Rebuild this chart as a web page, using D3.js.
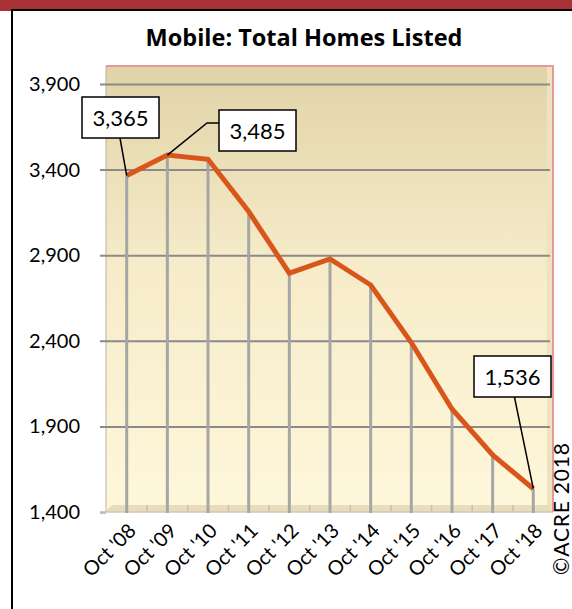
<!DOCTYPE html>
<html>
<head>
<meta charset="utf-8">
<script src="https://cdn.jsdelivr.net/npm/d3@7"></script>
<style>
  body { margin: 0; background: #fff; }
  svg { display: block; font-family: Lato, "Open Sans", sans-serif; }
</style>
</head>
<body>
<div id="viz"></div>
<script>
const categories = ["Oct '08", "Oct '09", "Oct '10", "Oct '11", "Oct '12", "Oct '13",
                    "Oct '14", "Oct '15", "Oct '16", "Oct '17", "Oct '18"];
const homesListed = [3365, 3485, 3460, 3155, 2795, 2878, 2726, 2390, 2002, 1733, 1536];
const yTicks = [1400, 1900, 2400, 2900, 3400, 3900];
const labelled = [0, 1, 10]; // points that get a callout box

const width = 572;
const height = 609;
const plot = { left: 106, right: 550, top: 66, bottom: 512 };
const lineColor = '#d9561b';

const svg = d3.select('#viz')
    .append('svg')
    .attr('width', width)
    .attr('height', height);

// frame: red band on top, black box border
svg.append('rect').attr('x', 0).attr('y', 0).attr('width', width).attr('height', 9).attr('fill', '#a93236');
svg.append('rect').attr('x', 0).attr('y', 0).attr('width', 11).attr('height', 11).attr('fill', '#a93236');
svg.append('rect')
    .attr('x', 12).attr('y', 10).attr('width', width).attr('height', height)
    .attr('fill', 'none').attr('stroke', '#000').attr('stroke-width', 2);

svg.append('text')
    .attr('x', 304).attr('y', 46)
    .attr('text-anchor', 'middle')
    .attr('font-family', '"Open Sans"')
    .attr('font-size', 23.5).attr('font-weight', 'bold')
    .text('Mobile: Total Homes Listed');

const defs = svg.append('defs');
const grad = defs.append('linearGradient').attr('id', 'wall').attr('x1', 0).attr('y1', 0).attr('x2', 0).attr('y2', 1);
grad.append('stop').attr('offset', '0%').attr('stop-color', '#e1d3a8');
grad.append('stop').attr('offset', '45%').attr('stop-color', '#f6ecc9');
grad.append('stop').attr('offset', '100%').attr('stop-color', '#fff7db');

const xScale = d3.scalePoint()
    .domain(categories)
    .range([126.7, 533.3]);

const yScale = d3.scaleLinear()
    .domain([1400, 3900])
    .range([plot.bottom, 84]);

// back wall + side + floor (the pseudo 3d look)
svg.append('rect')
    .attr('x', plot.left).attr('y', plot.top)
    .attr('width', plot.right - plot.left).attr('height', plot.bottom - plot.top)
    .attr('fill', 'url(#wall)');
svg.append('path')
    .attr('d', `M${plot.right - 3},${plot.top} L${plot.right + 3},${plot.top} L${plot.right + 3},${plot.bottom} L${plot.right - 3},${plot.bottom - 6}Z`)
    .attr('fill', '#efe3bf');
svg.append('path')
    .attr('d', `M${plot.left - 1},${plot.bottom} L${plot.left + 6},${plot.bottom - 7} L${plot.right - 3},${plot.bottom - 7} L${plot.right + 3},${plot.bottom} Z`)
    .attr('fill', '#e8dcbb');
svg.append('path')
    .attr('d', `M${plot.left},${plot.top} L${plot.right + 3},${plot.top} L${plot.right + 3},${plot.bottom}`)
    .attr('fill', 'none').attr('stroke', '#e49a9a').attr('stroke-width', 2);
svg.append('line')
    .attr('x1', plot.left).attr('x2', plot.left).attr('y1', plot.top).attr('y2', plot.bottom)
    .attr('stroke', '#b8b3a6').attr('stroke-width', 1);

// y axis with gridlines
const yAxis = d3.axisLeft(yScale)
    .tickValues(yTicks)
    .tickFormat(d3.format(','))
    .tickSize(-(plot.right - 100))
    .tickPadding(20);
const gy = svg.append('g')
    .attr('transform', 'translate(100,0)')
    .call(yAxis);
gy.select('.domain').remove();
gy.selectAll('.tick line').attr('stroke', '#8a8a8a').attr('stroke-width', 2);
gy.selectAll('.tick').filter(d => d === 1400).select('line').attr('x2', 6);
gy.selectAll('.tick text').attr('font-size', 20).attr('fill', '#000').attr('font-family', 'Lato');

// minor floor ticks between categories
const step = xScale.step();
svg.append('g').selectAll('line')
    .data(categories.slice(0, -1))
    .join('line')
    .attr('x1', d => xScale(d) + step / 2).attr('x2', d => xScale(d) + step / 2)
    .attr('y1', plot.bottom - 7).attr('y2', plot.bottom)
    .attr('stroke', '#c9c0a8').attr('stroke-width', 1.5);
svg.append('line')
    .attr('x1', 100).attr('x2', plot.right + 3).attr('y1', plot.bottom).attr('y2', plot.bottom)
    .attr('stroke', '#cfc8b6').attr('stroke-width', 1.5);

// drop lines
svg.append('g').selectAll('line')
    .data(homesListed)
    .join('line')
    .attr('x1', (d, i) => xScale(categories[i]))
    .attr('x2', (d, i) => xScale(categories[i]))
    .attr('y1', d => yScale(d))
    .attr('y2', plot.bottom + 1)
    .attr('stroke', '#a6a6a6').attr('stroke-width', 3);

// x axis
const xAxis = d3.axisBottom(xScale).tickSize(0).tickPadding(0);
const gx = svg.append('g')
    .attr('transform', `translate(0,${plot.bottom})`)
    .call(xAxis);
gx.select('.domain').remove();
gx.selectAll('.tick text')
    .attr('font-size', 20).attr('font-family', 'Lato').attr('fill', '#000')
    .attr('text-anchor', 'end')
    .attr('dy', 0)
    .attr('transform', 'translate(10,20) rotate(-45)');

// the line
const line = d3.line()
    .x((d, i) => xScale(categories[i]))
    .y(d => yScale(d));
svg.append('path')
    .datum(homesListed)
    .attr('fill', 'none')
    .attr('stroke', lineColor)
    .attr('stroke-width', 5)
    .attr('stroke-linejoin', 'miter')
    .attr('d', line);

// callouts: box position relative to its point
const callouts = {
    0: { bx: 82, by: 97, leader: p => `M${p[0]},${p[1]} L120,138` },
    1: { bx: 219, by: 110, leader: p => `M${p[0]},${p[1]} L207,123 L219,123` },
    10: { bx: 474, by: 356, leader: p => `M${p[0]},${p[1]} L513,390` }
};
const fmt = d3.format(',');
labelled.forEach(i => {
    const c = callouts[i];
    const p = [xScale(categories[i]), yScale(homesListed[i])];
    svg.append('path').attr('d', c.leader(p)).attr('fill', 'none').attr('stroke', '#000').attr('stroke-width', 1.5);
    svg.append('rect')
        .attr('x', c.bx).attr('y', c.by).attr('width', 77).attr('height', 41)
        .attr('fill', '#fff').attr('stroke', '#000').attr('stroke-width', 1.5);
    svg.append('text')
        .attr('x', c.bx + 38.5).attr('y', c.by + 28.5)
        .attr('text-anchor', 'middle').attr('font-size', 22)
        .text(fmt(homesListed[i]));
});

svg.append('text')
    .attr('transform', 'translate(569,575) rotate(-90)')
    .attr('font-size', 21)
    .attr('letter-spacing', 0.8)
    .text('©ACRE 2018');
</script>
</body>
</html>
